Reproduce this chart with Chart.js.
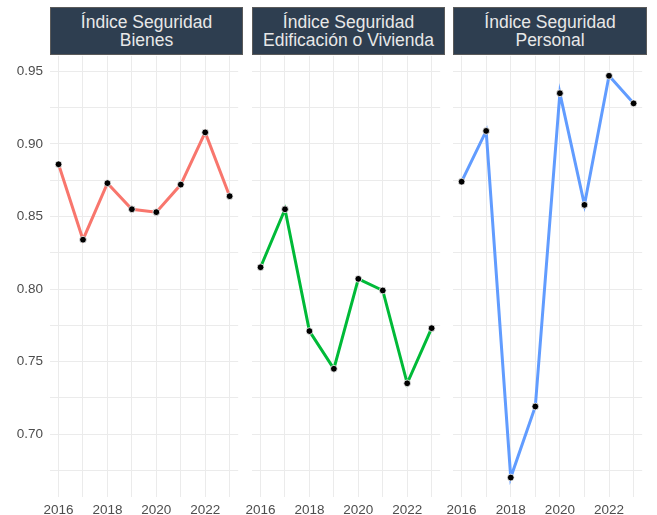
<!DOCTYPE html>
<html>
<head>
<meta charset="utf-8">
<script src="https://cdn.jsdelivr.net/npm/chart.js@4/dist/chart.umd.min.js"></script>
<style>
  body { margin: 0; background: #fff; width: 657px; height: 515px; position: relative; overflow: hidden; }
  canvas { position: absolute; top: 51px; }
  .strip {
    position: absolute; top: 7px; height: 48px; box-sizing: border-box;
    background: #2e3e50; border: 1px solid #5a5a5a; color: #e8e8e8;
    font-family: "Liberation Sans", Arial, sans-serif; font-size: 17.5px; line-height: 18px;
    text-align: center; display: flex; align-items: center; justify-content: center;
    white-space: nowrap;
  }
</style>
</head>
<body>
<div class="strip" style="left:50px;width:193px">Índice Seguridad<br>Bienes</div>
<div class="strip" style="left:252px;width:193px">Índice Seguridad<br>Edificación o Vivienda</div>
<div class="strip" style="left:453px;width:194px">Índice Seguridad<br>Personal</div>
<canvas id="c1" width="243" height="464" style="left:0px"></canvas>
<canvas id="c2" width="202" height="464" style="left:243px"></canvas>
<canvas id="c3" width="202" height="464" style="left:445px"></canvas>
<script>
const years = [2016, 2017, 2018, 2019, 2020, 2021, 2022, 2023];
const bienes = [0.886, 0.834, 0.873, 0.855, 0.853, 0.872, 0.908, 0.864];
const edificacion = [0.815, 0.855, 0.771, 0.745, 0.807, 0.799, 0.735, 0.773];
const personal = [0.874, 0.909, 0.670, 0.719, 0.935, 0.858, 0.947, 0.928];
const yTicks = [0.675, 0.7, 0.725, 0.75, 0.775, 0.8, 0.825, 0.85, 0.875, 0.9, 0.925, 0.95];

const font = { family: "'Liberation Sans', Arial, sans-serif", size: 13.5 };

const makePanel = (id, values, color, yWidth, showY) => {
  new Chart(document.getElementById(id), {
    type: "line",
    data: {
      datasets: [{
        data: years.map((y, i) => ({ x: y, y: values[i] })),
        borderColor: color,
        borderWidth: 3,
        pointBackgroundColor: "#000",
        pointBorderColor: "#fff",
        pointBorderWidth: 0.8,
        pointRadius: 3.4,
        tension: 0,
        clip: false,
      }],
    },
    options: {
      responsive: false,
      animation: false,
      devicePixelRatio: 1,
      layout: { padding: 0 },
      plugins: { legend: { display: false }, tooltip: { enabled: false } },
      scales: {
        x: {
          type: "linear",
          min: 2015.65,
          max: 2023.35,
          afterBuildTicks: (s) => { s.ticks = years.map((v) => ({ value: v })); },
          afterFit: (s) => {
            s.height = 18;
            s.paddingLeft = 0; s.paddingRight = 0;
          },
          border: { display: false },
          grid: { color: "#ebebeb", lineWidth: 1, drawTicks: false },
          ticks: {
            autoSkip: false,
            maxRotation: 0,
            padding: 5,
            color: "#4d4d4d",
            font: font,
            callback: (v) => (v % 2 === 0 ? String(v) : ""),
          },
        },
        y: {
          min: 0.6566,
          max: 0.9608,
          afterBuildTicks: (s) => { s.ticks = yTicks.map((v) => ({ value: v })); },
          afterFit: (s) => {
            s.width = yWidth;
            s.paddingTop = 0; s.paddingBottom = 0;
          },
          border: { display: false },
          grid: { color: "#ebebeb", lineWidth: 1, drawTicks: false },
          ticks: {
            display: showY,
            padding: 7,
            color: "#4d4d4d",
            font: font,
            callback: (v) => (Math.round(v * 1000) % 50 === 0 ? v.toFixed(2) : ""),
          },
        },
      },
    },
  });
};

makePanel("c1", bienes, "#F8766D", 50, true);
makePanel("c2", edificacion, "#00BA38", 9, false);
makePanel("c3", personal, "#619CFF", 8, false);
</script>
</body>
</html>
